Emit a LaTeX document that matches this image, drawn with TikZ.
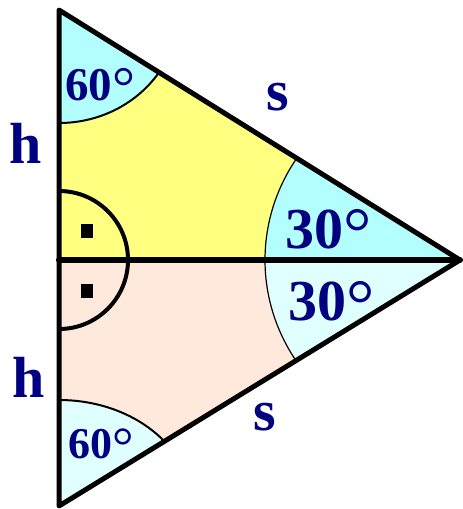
\documentclass[tikz,border=0pt]{standalone}
\usepackage{fontspec}
\usepackage{graphicx}
\setmainfont{Liberation Serif}
\definecolor{yel}{HTML}{FFFF80}
\definecolor{pnk}{HTML}{FFE8DC}
\definecolor{cyA}{HTML}{B3FFFF}
\definecolor{cyB}{HTML}{E0FFFF}
\definecolor{lab}{HTML}{000080}
\tikzset{
  edge/.style={line width=5pt, line join=round, line cap=round},
  midline/.style={line width=6pt, line cap=round},
  thinarc/.style={line width=1.2pt},
  midarc/.style={line width=2pt},
  rightarc/.style={line width=4pt},
  lbl/.style={text=lab, font=\bfseries, inner sep=0pt, anchor=base west},
}
\newcommand{\fs}[1]{\fontsize{#1}{#1}\selectfont}
\newcommand{\dgr}{{\mdseries\raisebox{-0.14em}{\scalebox{1.22}{°}}}}
\begin{document}
\begin{tikzpicture}[x=1pt,y=-1pt]
\useasboundingbox (0,0) rectangle (463,509);
\coordinate (A) at (59,10);
\coordinate (B) at (59,506);
\coordinate (R) at (460,260);
\coordinate (M) at (59,260);
% fills
\fill[yel] (A)--(R)--(M)--cycle;
\fill[pnk] (M)--(R)--(B)--cycle;
\begin{scope}
  \clip (A)--(R)--(M)--cycle;
  \fill[cyA] (A) ellipse[x radius=120, y radius=113];
  \fill[cyA] (R) ellipse[x radius=195, y radius=186];
  \draw[midarc] (A) ellipse[x radius=120, y radius=113];
  \draw[thinarc] (R) ellipse[x radius=195, y radius=186];
\end{scope}
\begin{scope}
  \clip (M)--(R)--(B)--cycle;
  \fill[cyB] (B) ellipse[x radius=133, y radius=106];
  \fill[cyB] (R) ellipse[x radius=195, y radius=186];
  \draw[midarc] (B) ellipse[x radius=133, y radius=106];
  \draw[thinarc] (R) ellipse[x radius=195, y radius=186];
\end{scope}
% outline
\draw[edge] (A)--(R)--(B)--cycle;
\draw[midline] (M)--(R);
% right angle
\coordinate (RAtop) at (59,191);
\draw[rightarc] (RAtop) arc[start angle=-90, end angle=90, radius=69];
\fill (80.5,224) rectangle (92.5,237.5);
\fill (80.5,284) rectangle (92.5,297.5);
% labels
\node[lbl] (t60) at (65,100) {\fs{47}60\dgr};
\node[lbl] (t30) at (285,248) {\fs{58}30\dgr};
\node[lbl] (b30) at (288,320) {\fs{58}30\dgr};
\node[lbl] (b60) at (68,458) {\fs{44}60\dgr};
\node[lbl] (h1) at (9,163) {\fs{58}h};
\node[lbl] (h2) at (12,397) {\fs{58}h};
\node[lbl] (s1) at (266,110) {\fs{58}s};
\node[lbl] (s2) at (253,430) {\fs{58}s};
\end{tikzpicture}
\end{document}
